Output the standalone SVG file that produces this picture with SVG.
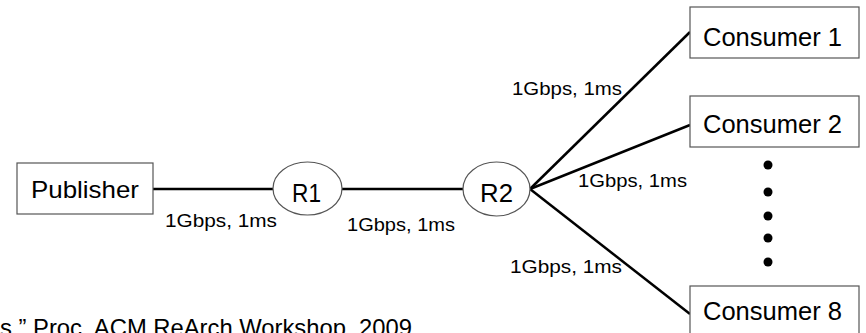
<svg xmlns="http://www.w3.org/2000/svg" width="866" height="333" viewBox="0 0 866 333">
<style>
.box{fill:#fff;stroke:#555;stroke-width:1.2}
.node{font-family:"Liberation Sans",Arial,sans-serif;fill:#000}
.lbl{font-family:"Liberation Sans",Arial,sans-serif;font-size:18.5px;fill:#000}
.edge{stroke:#000;stroke-width:2.5;fill:none}
.dot{fill:#000}
</style>
<rect width="866" height="333" fill="#fff"/>
<g id="connectors">
<line class="edge" x1="153" y1="189" x2="273" y2="189"/>
<line class="edge" x1="342" y1="189" x2="463" y2="189"/>
<line class="edge" x1="530" y1="189" x2="690" y2="32"/>
<line class="edge" x1="530" y1="189" x2="690" y2="125"/>
<line class="edge" x1="530" y1="189" x2="690" y2="314"/>
<text class="lbl" x="165" y="227" textLength="112" lengthAdjust="spacingAndGlyphs">1Gbps, 1ms</text>
<text class="lbl" x="347" y="231" textLength="108" lengthAdjust="spacingAndGlyphs">1Gbps, 1ms</text>
<text class="lbl" x="512" y="95" textLength="110" lengthAdjust="spacingAndGlyphs">1Gbps, 1ms</text>
<text class="lbl" x="578" y="187" textLength="109" lengthAdjust="spacingAndGlyphs">1Gbps, 1ms</text>
<text class="lbl" x="510" y="273" textLength="112" lengthAdjust="spacingAndGlyphs">1Gbps, 1ms</text>
</g>
<g id="publisher">
<rect class="box" x="17" y="163" width="136" height="51"/>
<text class="node" x="31" y="198" font-size="24" textLength="108" lengthAdjust="spacingAndGlyphs">Publisher</text>
</g>
<g id="r1">
<ellipse class="box" cx="307.5" cy="188.5" rx="34.5" ry="26.5"/>
<text class="node" x="292" y="202" font-size="26" textLength="29" lengthAdjust="spacingAndGlyphs">R1</text>
</g>
<g id="r2">
<ellipse class="box" cx="496.5" cy="189" rx="33.5" ry="27"/>
<text class="node" x="480" y="202" font-size="26" textLength="33" lengthAdjust="spacingAndGlyphs">R2</text>
</g>
<g id="consumer1">
<rect class="box" x="690" y="7" width="169" height="51"/>
<text class="node" x="703" y="46" font-size="25.5" textLength="139" lengthAdjust="spacingAndGlyphs">Consumer 1</text>
</g>
<g id="consumer2">
<rect class="box" x="690" y="96" width="169" height="51"/>
<text class="node" x="703" y="133" font-size="25.5" textLength="139" lengthAdjust="spacingAndGlyphs">Consumer 2</text>
</g>
<g id="consumer8">
<rect class="box" x="690" y="286" width="169" height="51"/>
<text class="node" x="703" y="320" font-size="25.5" textLength="139" lengthAdjust="spacingAndGlyphs">Consumer 8</text>
</g>
<g id="ellipsis">
<circle class="dot" cx="768" cy="165" r="4.5"/>
<circle class="dot" cx="768" cy="192" r="4.5"/>
<circle class="dot" cx="768" cy="216" r="4.5"/>
<circle class="dot" cx="768" cy="238" r="4.5"/>
<circle class="dot" cx="768" cy="262" r="4.5"/>
</g>
<text class="node" x="0" y="336" font-size="24" textLength="412" lengthAdjust="spacingAndGlyphs">s,” Proc. ACM ReArch Workshop, 2009</text>
</svg>
